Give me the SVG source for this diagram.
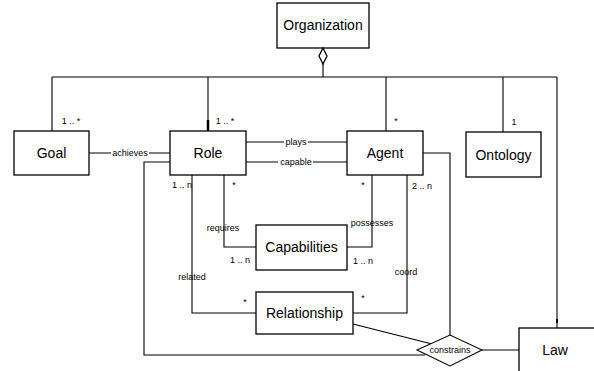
<svg xmlns="http://www.w3.org/2000/svg" width="594" height="371" viewBox="0 0 594 371">
  <style>
    .box { fill: #fff; stroke: #000; stroke-width: 1.3; }
    .ln { fill: none; stroke: #000; stroke-width: 1.1; }
    .name { font-family: "Liberation Sans", Arial, sans-serif; font-size: 14px; text-anchor: middle; fill: #000; }
    .lbl { font-family: "Liberation Sans", Arial, sans-serif; font-size: 9px; text-anchor: middle; fill: #000; }
    .lbg { fill: #fff; }
  </style>
  <rect width="594" height="371" fill="#fff"/>

  <g id="connectors">
    <!-- aggregation tree from Organization -->
    <polyline class="ln" points="323,64 323,77"/>
    <polyline class="ln" points="52,77 557,77"/>
    <polyline class="ln" points="52,77 52,131"/>
    <polyline class="ln" points="208,77 208,131"/>
    <line x1="208" y1="120" x2="208" y2="131" stroke="#000" stroke-width="2.5"/>
    <polyline class="ln" points="386,77 386,131"/>
    <polyline class="ln" points="503,77 503,132"/>
    <polyline class="ln" points="557,77 557,328"/>
    <line x1="557" y1="319" x2="557" y2="323" stroke="#000" stroke-width="2"/>
    <!-- Goal - Role -->
    <polyline class="ln" points="89,153 170,153"/>
    <rect class="lbg" x="111" y="148" width="38" height="10"/>
    <!-- Role - Agent -->
    <polyline class="ln" points="246,142 347,142"/>
    <rect class="lbg" x="284" y="137" width="24" height="10"/>
    <polyline class="ln" points="246,162 347,162"/>
    <rect class="lbg" x="278" y="157" width="35" height="10"/>
    <!-- Role to constrains -->
    <polyline class="ln" points="170,162 144,162 144,355 425,355"/>
    <!-- requires / possesses -->
    <polyline class="ln" points="224,175 224,247 256,247"/>
    <polyline class="ln" points="347,247 372,247 372,175"/>
    <!-- related / coord -->
    <polyline class="ln" points="192,175 192,313 256,313"/>
    <polyline class="ln" points="353,313 407,313 407,175"/>
    <!-- Agent to constrains -->
    <polyline class="ln" points="423,153 450,153 450,335"/>
    <!-- Relationship to constrains -->
    <polyline class="ln" points="353,324 432,344"/>
    <!-- constrains to Law -->
    <polyline class="ln" points="482,350 519,350"/>

    <text class="lbl" x="130" y="156">achieves</text>
    <text class="lbl" x="296" y="145">plays</text>
    <text class="lbl" x="296" y="165">capable</text>
    <text class="lbl" x="71" y="124">1 .. *</text>
    <text class="lbl" x="225" y="124">1 .. *</text>
    <text class="lbl" x="396" y="124">*</text>
    <text class="lbl" x="514" y="125">1</text>
    <text class="lbl" x="182" y="188">1 .. n</text>
    <text class="lbl" x="234" y="188">*</text>
    <text class="lbl" x="363" y="188">*</text>
    <text class="lbl" x="422" y="189">2 .. n</text>
    <text class="lbl" x="223" y="231">requires</text>
    <text class="lbl" x="372" y="226">possesses</text>
    <text class="lbl" x="240" y="263">1 .. n</text>
    <text class="lbl" x="363" y="264">1 .. n</text>
    <text class="lbl" x="192" y="280">related</text>
    <text class="lbl" x="406" y="275">coord</text>
    <text class="lbl" x="245" y="305">*</text>
    <text class="lbl" x="363" y="301">*</text>
  </g>

  <g id="organization">
    <rect class="box" x="277" y="3" width="92" height="45"/>
    <text class="name" x="323" y="30">Organization</text>
    <polygon points="323,48 327,56 323,64 319,56" fill="#fff" stroke="#000" stroke-width="1.3"/>
  </g>
  <g id="goal">
    <rect class="box" x="14" y="131" width="75" height="44"/>
    <text class="name" x="51.5" y="158">Goal</text>
  </g>
  <g id="role">
    <rect class="box" x="170" y="131" width="76" height="44"/>
    <text class="name" x="208" y="158">Role</text>
  </g>
  <g id="agent">
    <rect class="box" x="347" y="131" width="76" height="44"/>
    <text class="name" x="385" y="158">Agent</text>
  </g>
  <g id="ontology">
    <rect class="box" x="466" y="132" width="75" height="45"/>
    <text class="name" x="503.5" y="160">Ontology</text>
  </g>
  <g id="capabilities">
    <rect class="box" x="256" y="225" width="91" height="45"/>
    <text class="name" x="301.5" y="252">Capabilities</text>
  </g>
  <g id="relationship">
    <rect class="box" x="256" y="292" width="97" height="42"/>
    <text class="name" x="304.5" y="318">Relationship</text>
  </g>
  <g id="constrains">
    <polygon points="417,350 450,335 482,350 450,366" fill="#fff" stroke="#000" stroke-width="1.1"/>
    <text class="lbl" x="450" y="353">constrains</text>
  </g>
  <g id="law">
    <rect class="box" x="519" y="328" width="90" height="60"/>
    <text class="name" x="555" y="355">Law</text>
  </g>
</svg>
